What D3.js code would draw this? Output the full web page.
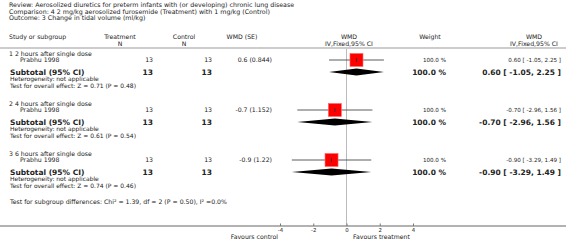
<!DOCTYPE html>
<html>
<head>
<meta charset="utf-8">
<script src="https://cdn.jsdelivr.net/npm/d3@7"></script>
<style>
  body { margin: 0; background: #fff; }
  svg { font-family: "DejaVu Sans", Verdana, sans-serif; }
  text { fill: #222; }
</style>
</head>
<body>
<svg id="forest" width="566" height="249"></svg>
<script>
// data
const titleLines = [
  "Review:  Aerosolized diuretics for preterm infants with (or developing) chronic lung disease",
  "Comparison:  4 2 mg/kg aerosolized furosemide (Treatment) with 1 mg/kg (Control)",
  "Outcome:  3 Change in tidal volume (ml/kg)"
]
const groups = ["1 2 hours after single dose", "2 4 hours after single dose", "3 6 hours after single dose"]
const studies = ["Prabhu 1998", "Prabhu 1998", "Prabhu 1998"]
const nTreat = [13, 13, 13]
const nCtrl = [13, 13, 13]
const wmdSE = ["0.6 (0.844)", "-0.7 (1.152)", "-0.9 (1.22)"]
const est = [0.60, -0.70, -0.90]
const lo = [-1.05, -2.96, -3.29]
const hi = [2.25, 1.56, 1.49]
const weights = [100.0, 100.0, 100.0]
const zTests = ["Z = 0.71 (P = 0.48)", "Z = 0.61 (P = 0.54)", "Z = 0.74 (P = 0.46)"]
const ticks = [-4, -2, 0, 2, 4]
const subgroupTest = "Test for subgroup differences: Chi² = 1.39, df = 2 (P = 0.50), I² =0.0%"

const svg = d3.select("#forest")
const W = 566

const x = d3.scaleLinear().domain([-4, 4]).range([280, 413])
// plain hyphen minus like the original
const loc = d3.formatLocale({decimal: ".", thousands: ",", grouping: [3], currency: ["", ""], minus: "-"})
const fmt = loc.format(".2f")
const ci = i => `${fmt(est[i])} [ ${fmt(lo[i])}, ${fmt(hi[i])} ]`
const pct = v => loc.format(".1f")(v) + " %"

// title block
svg.append("g").selectAll("text")
  .data(titleLines)
  .join("text")
    .attr("x", 9)
    .attr("y", (d, i) => 7 + i * 6.6)
    .style("font-size", "6.3px")
    .text(d => d)

// column headers
const hdr = svg.append("g").style("font-size", "6.2px")
hdr.append("text").attr("x", 9).attr("y", 39).text("Study or subgroup")
hdr.append("text").attr("x", 120).attr("y", 39).attr("text-anchor", "middle").text("Treatment")
hdr.append("text").attr("x", 120).attr("y", 45.5).attr("text-anchor", "middle").text("N")
hdr.append("text").attr("x", 184).attr("y", 39).attr("text-anchor", "middle").text("Control")
hdr.append("text").attr("x", 184).attr("y", 45.5).attr("text-anchor", "middle").text("N")
hdr.append("text").attr("x", 242).attr("y", 39).attr("text-anchor", "middle").text("WMD (SE)")
hdr.append("text").attr("x", 349).attr("y", 39).attr("text-anchor", "middle").text("WMD")
hdr.append("text").attr("x", 349).attr("y", 45.5).attr("text-anchor", "middle").text("IV,Fixed,95% CI")
hdr.append("text").attr("x", 430).attr("y", 39).attr("text-anchor", "middle").text("Weight")
hdr.append("text").attr("x", 534).attr("y", 39).attr("text-anchor", "middle").text("WMD")
hdr.append("text").attr("x", 534).attr("y", 45.5).attr("text-anchor", "middle").text("IV,Fixed,95% CI")

svg.append("line")
  .attr("x1", 0).attr("x2", W).attr("y1", 48).attr("y2", 48)
  .attr("stroke", "#999").attr("stroke-width", 1)

const axisY = 226

// zero line
svg.append("line")
  .attr("x1", x(0)).attr("x2", x(0)).attr("y1", 49).attr("y2", axisY)
  .attr("stroke", "#bbb").attr("stroke-width", 1)

// one block per subgroup
const rows = svg.append("g").selectAll("g")
  .data(groups)
  .join("g")
    .attr("transform", (d, i) => `translate(0,${i * 50})`)

rows.append("text").attr("x", 9).attr("y", 55.5).style("font-size", "6.2px").text(d => d)
rows.append("text").attr("x", 20).attr("y", 62).style("font-size", "6.2px").text((d, i) => studies[i])
rows.append("text").attr("x", 153).attr("y", 62).attr("text-anchor", "end").style("font-size", "6.2px").text((d, i) => nTreat[i])
rows.append("text").attr("x", 212).attr("y", 62).attr("text-anchor", "end").style("font-size", "6.2px").text((d, i) => nCtrl[i])
rows.append("text").attr("x", 272).attr("y", 62).attr("text-anchor", "end").style("font-size", "6.2px").text((d, i) => wmdSE[i])
rows.append("text").attr("x", 446).attr("y", 62).attr("text-anchor", "end").style("font-size", "5.6px").text((d, i) => pct(weights[i]))
rows.append("text").attr("x", 561).attr("y", 62).attr("text-anchor", "end").style("font-size", "5.6px").text((d, i) => ci(i))

// subtotal line
function styleBold(sel) { return sel.style("font-size", "7.5px").style("font-weight", "bold") }
styleBold(rows.append("text").attr("x", 10).attr("y", 74.5)).text("Subtotal (95% CI)")
styleBold(rows.append("text").attr("x", 153).attr("y", 74.5).attr("text-anchor", "end")).text((d, i) => nTreat[i])
styleBold(rows.append("text").attr("x", 212).attr("y", 74.5).attr("text-anchor", "end")).text((d, i) => nCtrl[i])
styleBold(rows.append("text").attr("x", 446).attr("y", 74.5).attr("text-anchor", "end")).text((d, i) => pct(weights[i]))
styleBold(rows.append("text").attr("x", 561).attr("y", 74.5).attr("text-anchor", "end")).text((d, i) => ci(i))
rows.append("text").attr("x", 10).attr("y", 81.3).style("font-size", "6px").text("Heterogeneity: not applicable")
rows.append("text").attr("x", 10).attr("y", 87.6).style("font-size", "6px").text((d, i) => "Test for overall effect: " + zTests[i])

// study marks
rows.append("line")
  .attr("x1", (d, i) => x(lo[i])).attr("x2", (d, i) => x(hi[i]))
  .attr("y1", 60).attr("y2", 60)
  .attr("stroke", "#333").attr("stroke-width", 0.8)
rows.append("rect")
  .attr("x", (d, i) => x(est[i]) - 6.5).attr("y", 53.5)
  .attr("width", 13).attr("height", 13)
  .attr("fill", "#ff0000").attr("stroke", "#ff6666").attr("stroke-width", 0.6)
rows.append("line")
  .attr("x1", (d, i) => x(est[i])).attr("x2", (d, i) => x(est[i]))
  .attr("y1", 58).attr("y2", 62)
  .attr("stroke", "#333").attr("stroke-width", 0.8)

// diamonds
rows.append("path")
  .attr("d", (d, i) => `M${x(lo[i])},72 L${x(est[i])},68.5 L${x(hi[i])},72 L${x(est[i])},75.5 Z`)
  .attr("fill", "#000")

svg.append("text").attr("x", 10).attr("y", 204).style("font-size", "6.2px").text(subgroupTest)

// axis
svg.append("line")
  .attr("x1", 0).attr("x2", W).attr("y1", axisY).attr("y2", axisY)
  .attr("stroke", "#999").attr("stroke-width", 1.5)

const ax = svg.append("g")
  .attr("transform", `translate(0,${axisY})`)
  .call(d3.axisBottom(x).tickValues(ticks).tickFormat(d => String(d))
    .tickSizeInner(-2.5).tickSizeOuter(0).tickPadding(2))
ax.select(".domain").remove()
ax.selectAll("line").attr("stroke", "#777")
ax.selectAll("text").style("font-size", "5.4px").style("font-family", "DejaVu Sans").attr("fill", "#222")

svg.append("text").attr("x", 278).attr("y", 238.5).attr("text-anchor", "end").style("font-size", "6.2px").text("Favours control")
svg.append("text").attr("x", 353).attr("y", 238.5).style("font-size", "6.2px").text("Favours treatment")
</script>
</body>
</html>
